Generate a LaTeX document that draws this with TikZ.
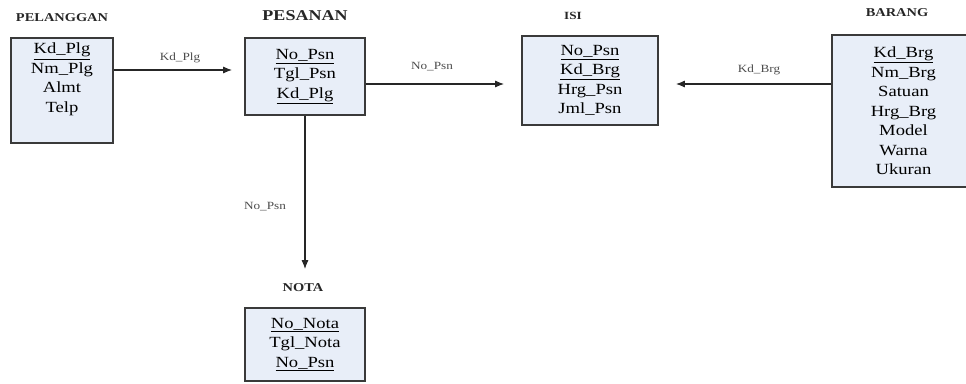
\documentclass[tikz,border=0pt]{standalone}
\usepackage{fontspec}
\setmainfont[FakeStretch=1.2]{Liberation Serif}
\usetikzlibrary{arrows.meta}
\definecolor{boxfill}{HTML}{E8EEF8}
\definecolor{boxline}{HTML}{3A3A3A}
\tikzset{
	entity/.style={draw=boxline, line width=1.6pt, fill=boxfill, align=center, inner sep=2pt, font=\fontsize{15.5}{19.5}\selectfont},
	title/.style={font=\bfseries\fontsize{12}{14}\selectfont, text=black!85},
	rel/.style={-{Latex[length=9pt,width=7pt]}, line width=1.2pt, draw=black!85},
	rlabel/.style={font=\fontsize{11}{13}\selectfont, text=black!70},
}

\begin{document}
\begin{tikzpicture}[x=1pt,y=-1pt]
	\useasboundingbox (0,0) rectangle (966,383);

	\node[title] at (62,18)(tplg){PELANGGAN};
	\node[entity, minimum width=102, minimum height=105] at (62,90.5)(plg){\underline{Kd\_Plg}\\Nm\_Plg\\Almt\\Telp\\\strut};

	\node[title, font=\bfseries\fontsize{15}{17}\selectfont] at (305,16)(tpsn){PESANAN};
	\node[entity, minimum width=120, minimum height=77] at (305,76.5)(psn){\underline{No\_Psn}\\Tgl\_Psn\\\underline{Kd\_Plg}};

	\node[title, font=\bfseries\fontsize{11}{13}\selectfont] at (573,16)(tisi){ISI};
	\node[entity, minimum width=136, minimum height=89] at (590,80.5)(isi){\underline{No\_Psn}\\\underline{Kd\_Brg}\\Hrg\_Psn\\Jml\_Psn};

	\node[title] at (897,13)(tbrg){BARANG};
	\node[entity, minimum width=143, minimum height=152] at (903.5,111)(brg){\underline{Kd\_Brg}\\Nm\_Brg\\Satuan\\Hrg\_Brg\\Model\\Warna\\Ukuran};

	\node[title] at (303,288)(tnota){NOTA};
	\node[entity, minimum width=120, minimum height=73] at (305,344.5)(nota){\underline{No\_Nota}\\Tgl\_Nota\\\underline{No\_Psn}};

	% relasi
	\path ([yshift=20.5pt]plg.east) edge[rel, shorten >=12pt] ([yshift=6.5pt]psn.west);
	\path ([yshift=-7.5pt]psn.east) edge[rel, shorten >=17pt] ([yshift=-3.5pt]isi.west);
	\path ([yshift=27pt]brg.west) edge[rel, shorten >=17pt] ([yshift=-3.5pt]isi.east);
	\path (psn.south) edge[rel, shorten >=38pt] (nota.north);

	\node[rlabel] at (180,58)(l1){Kd\_Plg};
	\node[rlabel] at (432,67)(l2){No\_Psn};
	\node[rlabel] at (759,70)(l3){Kd\_Brg};
	\node[rlabel] at (265,207)(l4){No\_Psn};
\end{tikzpicture}
\end{document}
